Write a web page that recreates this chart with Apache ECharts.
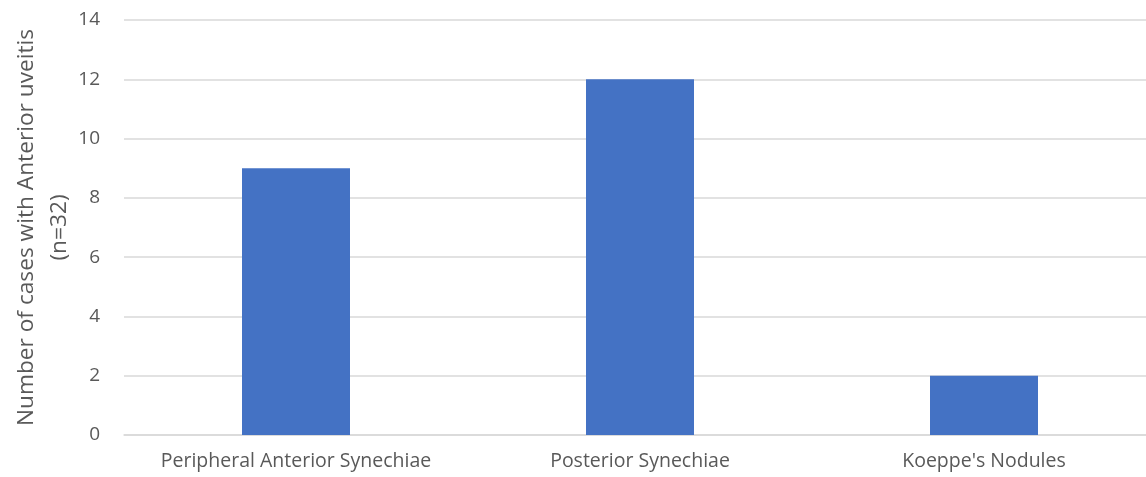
<!DOCTYPE html>
<html>
<head>
<meta charset="utf-8">
<script src="https://cdn.jsdelivr.net/npm/echarts@6/dist/echarts.min.js"></script>
<style>
  html, body { margin: 0; padding: 0; background: #fff; }
  #chart { width: 1146px; height: 477px; }
</style>
</head>
<body>
<div id="chart"></div>
<script>
// Anterior uveitis findings
const categories = ["Peripheral Anterior Synechiae", "Posterior Synechiae", "Koeppe's Nodules"];
const cases = [9, 12, 2];
const yAxisTitle = "Number of cases with Anterior uveitis\n(n=32)";

const FONT = "Open Sans";
const chart = echarts.init(document.getElementById('chart'), null, { renderer: 'canvas' });
chart.setOption({
  animation: false,
  backgroundColor: '#ffffff',
  grid: { left: 124, right: -10, top: 20, bottom: 42, containLabel: false, outerBoundsMode: 'none' },
  xAxis: {
    type: 'category',
    data: categories,
    axisLine: { lineStyle: { color: '#d9d9d9', width: 1.5 } },
    axisTick: { show: false },
    axisLabel: { color: '#595959', fontFamily: FONT, fontSize: 19.5, margin: 16, interval: 0, hideOverlap: false }
  },
  yAxis: {
    type: 'value',
    min: 0, max: 14, interval: 2,
    name: yAxisTitle,
    nameLocation: 'middle',
    nameGap: 48,
    nameMoveOverlap: false,
    nameTextStyle: { color: '#595959', fontFamily: FONT, fontSize: 22.7, lineHeight: 33 },
    axisLine: { show: false },
    axisTick: { show: false },
    splitLine: { lineStyle: { color: '#d9d9d9', width: 1.5 } },
    axisLabel: { color: '#595959', fontFamily: FONT, fontSize: 19, margin: 24 }
  },
  series: [{
    type: 'bar',
    data: cases,
    barWidth: 108,
    itemStyle: { color: '#4472c4' }
  }]
});
</script>
</body>
</html>
